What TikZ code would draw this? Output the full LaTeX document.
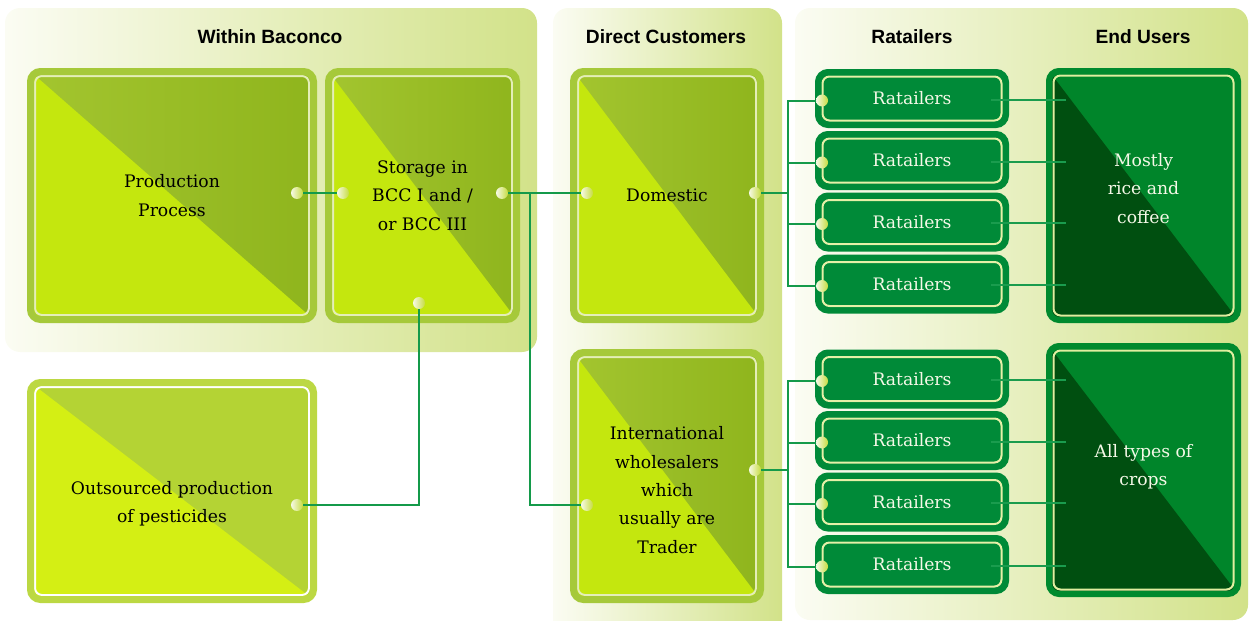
\documentclass[tikz,border=0pt]{standalone}
\usepackage{fontspec}
\setmainfont{DejaVu Serif}
\newfontfamily\headfont{Liberation Sans}
\usetikzlibrary{calc}

\definecolor{panelL}{HTML}{FBFCF3}
\definecolor{panelM}{HTML}{DEE8AE}
\definecolor{panelR}{HTML}{D2E289}
\definecolor{lbBorder}{HTML}{A6C93A}
\definecolor{lbPale}{HTML}{E4EEB8}
\definecolor{lbDarkL}{HTML}{A3C52F}
\definecolor{lbDarkR}{HTML}{8FB51D}
\definecolor{lbBright}{HTML}{C4E70E}
\definecolor{obBorder}{HTML}{BCD843}
\definecolor{obDark}{HTML}{B4D334}
\definecolor{obBright}{HTML}{D4EF14}
\definecolor{retGreen}{HTML}{008A38}
\definecolor{retPale}{HTML}{E6F0A8}
\definecolor{euBorder}{HTML}{008A2E}
\definecolor{euPale}{HTML}{E0EEA0}
\definecolor{euUpper}{HTML}{00852A}
\definecolor{euLower}{HTML}{004F10}
\definecolor{dotL}{HTML}{F6F9E6}
\definecolor{dotR}{HTML}{C6DC40}
\definecolor{linkGreen}{HTML}{149A4A}
\definecolor{thinGreen}{HTML}{1A9C4E}
\definecolor{boxWhite}{HTML}{F6F9E8}

\newcommand{\bodyfont}{\fontsize{8.6pt}{14.2pt}\selectfont}

\begin{document}
\begin{tikzpicture}[x=0.5pt, y=-0.5pt,
  panel/.style={rounded corners=7.5pt, left color=panelL, middle color=panelM, right color=panelR},
  splitbox/.style n args={5}{rectangle, inner sep=0pt, outer sep=0pt, draw=#1,
    line width=3.5pt, rounded corners=5pt, align=center, font=\bodyfont,
    path picture={
      \shade[sharp corners, left color=#2, right color=#3]
        (path picture bounding box.north west) rectangle (path picture bounding box.south east);
      \fill[sharp corners, #4] (path picture bounding box.north west)
        -- (path picture bounding box.south east)
        -- (path picture bounding box.south west) -- cycle;
      \draw[#5, line width=1pt, rounded corners=3.5pt]
        ([shift={(4.5,4.5)}]path picture bounding box.north west) rectangle
        ([shift={(-4.5,-4.5)}]path picture bounding box.south east);
    }},
  lbox/.style={splitbox={lbBorder}{lbDarkL}{lbDarkR}{lbBright}{lbPale}, text=black},
  obox/.style={splitbox={obBorder}{obDark}{obDark}{obBright}{white}, text=black},
  eubox/.style={splitbox={euBorder}{euUpper}{euUpper}{euLower}{euPale}, line width=3pt, text=boxWhite},
  retbox/.style={splitbox={retGreen}{retGreen}{retGreen}{retGreen}{retPale}, line width=3pt,
    text=boxWhite, minimum width=94pt, minimum height=26.5pt},
  txt/.style={align=center, font=\bodyfont, inner sep=0pt},
  head/.style={font=\headfont\bfseries\fontsize{9.6pt}{11pt}\selectfont, text=black, inner sep=0pt},
  dot/.style={circle, inner sep=0pt, minimum size=6pt, left color=dotL, right color=dotR},
  link/.style={draw=linkGreen, line width=1pt},
  thinlink/.style={draw=thinGreen, line width=1pt}
]
\useasboundingbox (0,0) rectangle (1250,621);

% background panels
\shade[panel] (5,8) rectangle (537,352);
\shade[panel] (553,8) rectangle (782,660);
\shade[panel] (795,8) rectangle (1248,620);

% column headings
\node[head] (h1) at (270,37) {Within Baconco};
\node[head] (h2) at (666,37) {Direct Customers};
\node[head] (h3) at (912,37) {Ratailers};
\node[head] (h4) at (1143,37) {End Users};

% light green boxes
\node[lbox, minimum width=141.5pt, minimum height=124pt] (prod) at (172,195.5) {Production\\Process};
\node[lbox, minimum width=94pt, minimum height=124pt] (stor) at (422.5,195.5) {Storage in\\BCC I and /\\or BCC III};
\node[lbox, minimum width=93.5pt, minimum height=124pt] (dom) at (667,195.5) {Domestic};
\node[lbox, minimum width=93.5pt, minimum height=123.5pt] (intl) at (667,476) {};
\node[txt] (intltxt) at (667,490) {International\\wholesalers\\which\\usually are\\Trader};
\node[obox, minimum width=141.5pt, minimum height=108.5pt] (outs) at (172,491) {};
\node[txt] (outstxt) at (172,503.5) {Outsourced production\\of pesticides};

% end user boxes
\node[eubox, minimum width=94.5pt, minimum height=124.5pt] (eu1) at (1143.5,195.5) {};
\node[txt, text=boxWhite] (eu1txt) at (1143.5,188.5) {Mostly\\rice and\\coffee};
\node[eubox, minimum width=94.5pt, minimum height=124pt] (eu2) at (1143.5,470) {};
\node[txt, text=boxWhite] (eu2txt) at (1143.5,467) {All types of\\crops};

% retailer boxes with their dots
\foreach \i/\y in {1/98.5,2/160.5,3/222,4/284,5/379,6/440.5,7/502,8/564.5}{
  \node[retbox] (r\i) at (912,\y) {Ratailers};
  \node[dot] (rd\i) at (822,{\y+2}) {};
}

% connector dots
\node[dot] (pd) at (297,193) {};
\node[dot] (sl) at (343,193) {};
\node[dot] (sr) at (502,193) {};
\node[dot] (sb) at (419,303) {};
\node[dot] (dl) at (587,193) {};
\node[dot] (dr) at (755,193) {};
\node[dot] (il) at (587,505) {};
\node[dot] (ir) at (755,470) {};
\node[dot] (od) at (297,505) {};

% junctions
\coordinate (j1) at (530,193);
\coordinate (b1) at (788,193);
\coordinate (b2) at (788,470);

% connectors
\draw[link] (pd) -- (sl);
\draw[link] (sr) -- (dl);
\draw[link] (j1) |- (il);
\draw[link] (od) -| (sb);
\draw[link] (dr) -- (b1);
\draw[link] (ir) -- (b2);
\foreach \i in {1,2,3,4}{ \draw[link] (rd\i) -| (b1); }
\foreach \i in {5,6,7,8}{ \draw[link] (rd\i) -| (b2); }
\foreach \i in {1,2,3,4}{
  \draw[thinlink] ($(r\i.east)+(-15,1)$) -- ($(r\i.east -| eu1.west)+(17,1)$);
}
\foreach \i in {5,6,7,8}{
  \draw[thinlink] ($(r\i.east)+(-15,1)$) -- ($(r\i.east -| eu2.west)+(17,1)$);
}
\end{tikzpicture}
\end{document}
